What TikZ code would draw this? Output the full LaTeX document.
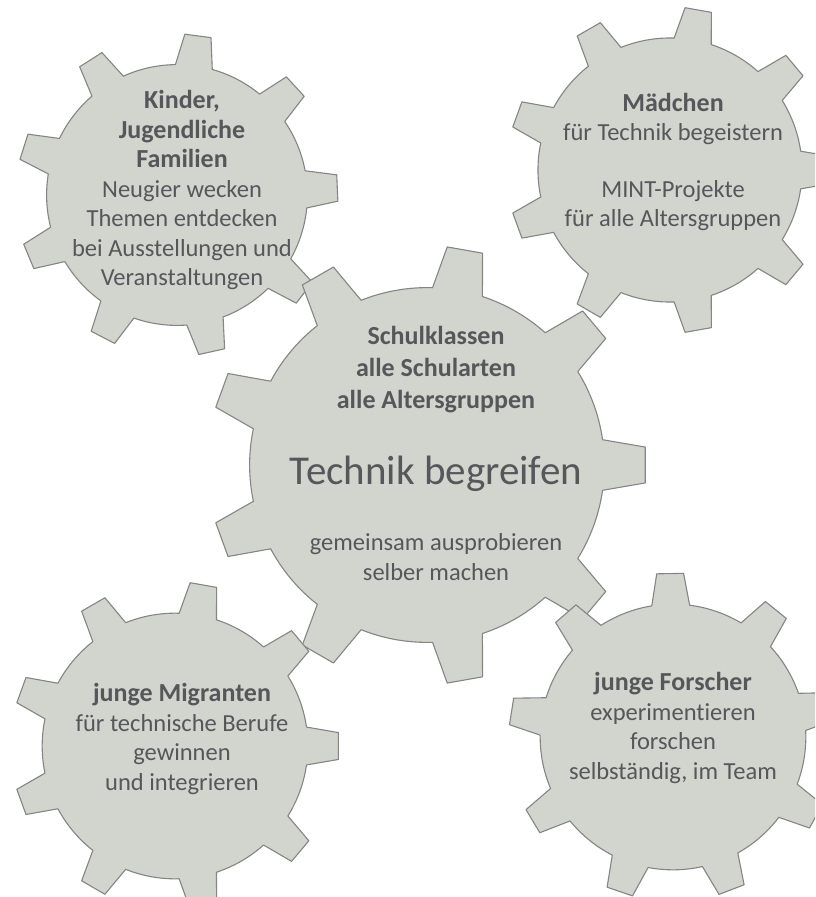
\documentclass[tikz,border=0pt]{standalone}
\usepackage{fontspec}
\setmainfont{Carlito}[Ligatures=NoCommon]
\usepackage{tikz}

\definecolor{gearfill}{HTML}{D1D5CD}
\definecolor{gearline}{HTML}{858585}
\definecolor{geartext}{HTML}{55575B}

% gear with 9 teeth: center x, center y, tip radius, rotation
\newcommand{\drawgear}[4]{%
  \begin{scope}[shift={(#1,#2)}]
  \draw[gear] ({#4-8.2}:{0.81*#3})
    \foreach \a in {0,40,...,320}{
      -- ({#4+\a-4.7}:#3) -- ({#4+\a+4.7}:#3) -- ({#4+\a+8.2}:{0.81*#3})
      arc[start angle={#4+\a+8.2}, end angle={#4+\a+31.8}, radius={0.81*#3}]
    } -- cycle;
  \end{scope}}
\newcommand{\headline}[1]{{\fontsize{26}{30}\selectfont\bfseries #1}}

\begin{document}
\begin{tikzpicture}[x=1pt,y=1pt,
  gear/.style={fill=gearfill,draw=gearline,line width=1.1pt,line join=round},
  txt/.style={align=center,text=geartext,inner sep=0pt,font=\fontsize{24.5}{29.5}\selectfont}]
\useasboundingbox (0,0) rectangle (815,-897);
\clip (0,0) rectangle (815,-897);

\drawgear{177}{-195}{161}{2.5}
\drawgear{670}{-170}{163}{0}
\drawgear{427}{-465}{219}{0}
\drawgear{175}{-746}{164}{0}
\drawgear{673}{-737}{164}{11}

\node[txt] (kinder) at (182,-190) {\headline{Kinder,}\\\headline{Jugendliche}\\\headline{Familien}\\Neugier wecken\\Themen entdecken\\bei Ausstellungen und\\Veranstaltungen};
\node[txt] (maedchen) at (673,-162) {\headline{Mädchen}\\für Technik begeistern\\[27pt]MINT-Projekte\\für alle Altersgruppen};
\node[txt,font=\fontsize{26}{32}\selectfont\bfseries] (schule) at (436,-370) {Schulklassen\\alle Schularten\\alle Altersgruppen};
\node[txt,font=\fontsize{41}{48}\selectfont] (titel) at (436,-474) {Technik begreifen};
\node[txt] (tun) at (436,-557) {gemeinsam ausprobieren\\selber machen};
\node[txt] (migranten) at (182,-739) {\headline{junge Migranten}\\für technische Berufe\\gewinnen\\und integrieren};
\node[txt] (forscher) at (673,-728) {\headline{junge Forscher}\\experimentieren\\forschen\\selbständig, im Team};
\end{tikzpicture}
\end{document}
